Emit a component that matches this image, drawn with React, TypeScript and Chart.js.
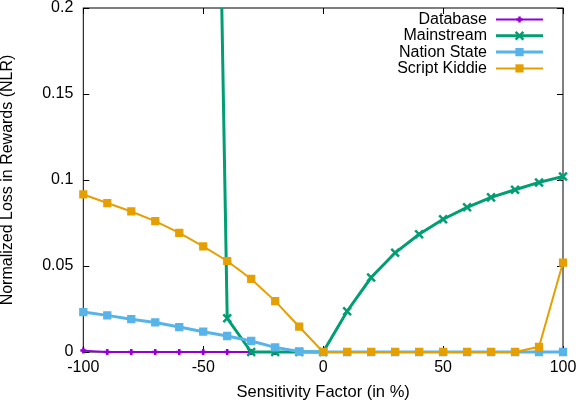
import { useEffect, useRef } from "react"
import { Chart, registerables } from "chart.js"
import { drawPoint } from "chart.js/helpers"

Chart.register(...registerables)

// sensitivity factor (in %)
const factors = [-100, -90, -80, -70, -60, -50, -40, -30, -20, -10, 0, 10, 20, 30, 40, 50, 60, 70, 80, 90, 100]

const database = [0.0008, 0, 0, 0, 0, 0, 0, 0, 0, 0, 0, 0, 0, 0, 0, 0, 0, 0, 0, 0, 0]
// first points run far above the 0.2 limit
const mainstream = [1.6, 1.45, 1.3, 1.15, 1.0, 0.82, 0.0196, 0, 0, 0, 0, 0.0237, 0.0433, 0.0577, 0.0684, 0.0772, 0.0841, 0.0899, 0.0943, 0.0986, 0.102]
const nationState = [0.0232, 0.0213, 0.0191, 0.0172, 0.0145, 0.0118, 0.0093, 0.0064, 0.0027, 0.0003, 0, 0, 0, 0, 0, 0, 0, 0, 0, 0, 0]
const scriptKiddie = [0.0916, 0.0866, 0.0817, 0.0761, 0.0692, 0.0614, 0.0529, 0.0425, 0.0296, 0.0147, 0, 0, 0, 0, 0, 0, 0, 0, 0, 0.003, 0.052]

const seriesNames = ["Database", "Mainstream", "Nation State", "Script Kiddie"]
const xTicks = [-100, -50, 0, 50, 100]
const yTicks = [0, 0.05, 0.1, 0.15, 0.2]

const FONT = "'Liberation Sans', Arial, sans-serif"

const toPoints = (ys: number[]) => factors.map((x, i) => ({ x, y: ys[i] }))

// gnuplot-like box with inward ticks, plus the legend in the top right corner
const framePlugin = {
  id: "frame",
  beforeDatasetsDraw(chart: any) {
    const { ctx, chartArea } = chart
    const { left, right, top, bottom } = chartArea
    const xs = chart.scales.x
    const ys = chart.scales.y
    ctx.save()
    ctx.strokeStyle = "#000"
    ctx.lineWidth = 1
    ctx.strokeRect(left, top, right - left, bottom - top)
    ctx.beginPath()
    xTicks.forEach((v) => {
      const px = Math.round(xs.getPixelForValue(v)) + 0.5
      ctx.moveTo(px, bottom)
      ctx.lineTo(px, bottom - 6)
      ctx.moveTo(px, top)
      ctx.lineTo(px, top + 6)
    })
    yTicks.forEach((v) => {
      const py = Math.round(ys.getPixelForValue(v)) + 0.5
      ctx.moveTo(left, py)
      ctx.lineTo(left + 6, py)
      ctx.moveTo(right, py)
      ctx.lineTo(right - 6, py)
    })
    ctx.stroke()
    ctx.restore()
  },
  afterDatasetsDraw(chart: any) {
    const { ctx } = chart
    ctx.save()
    ctx.font = `16px ${FONT}`
    ctx.textAlign = "right"
    ctx.textBaseline = "middle"
    chart.data.datasets.forEach((ds: any, i: number) => {
      const y = 19.5 + i * 16.3
      ctx.fillStyle = "#000"
      ctx.fillText(ds.label, 487, y)
      ctx.strokeStyle = ds.borderColor
      ctx.lineWidth = ds.borderWidth
      ctx.beginPath()
      ctx.moveTo(496, y)
      ctx.lineTo(543, y)
      ctx.stroke()
      ctx.fillStyle = ds.pointBackgroundColor
      ctx.strokeStyle = ds.pointBorderColor
      ctx.lineWidth = ds.pointBorderWidth
      drawPoint(ctx, { pointStyle: ds.pointStyle, radius: ds.pointRadius, rotation: 0, borderWidth: ds.pointBorderWidth } as any, 519.5, y)
    })
    ctx.restore()
  },
}

export default function App() {
  const chartRef = useRef<HTMLCanvasElement>(null)
  const chartInstance = useRef<Chart | null>(null)

  useEffect(() => {
    if (!chartRef.current) return
    if (chartInstance.current) chartInstance.current.destroy()

    const clip = { left: 10, right: 10, top: 0, bottom: 10 }

    chartInstance.current = new Chart(chartRef.current, {
      type: "line",
      data: {
        datasets: [
          {
            label: seriesNames[0],
            data: toPoints(database),
            borderColor: "#9400d3",
            borderWidth: 2,
            pointStyle: "cross",
            pointRadius: 3,
            pointBorderWidth: 2.5,
            pointBackgroundColor: "#9400d3",
            pointBorderColor: "#9400d3",
            order: 4,
            clip,
          },
          {
            label: seriesNames[1],
            data: toPoints(mainstream),
            borderColor: "#009e73",
            borderWidth: 3,
            pointStyle: "crossRot",
            pointRadius: 5.5,
            pointBorderWidth: 2.5,
            pointBackgroundColor: "#009e73",
            pointBorderColor: "#009e73",
            order: 3,
            clip,
          },
          {
            label: seriesNames[2],
            data: toPoints(nationState),
            borderColor: "#56b4e9",
            borderWidth: 3,
            pointStyle: "rect",
            pointRadius: 4.8,
            pointBorderWidth: 1.5,
            pointBackgroundColor: "#56b4e9",
            pointBorderColor: "#56b4e9",
            order: 2,
            clip,
          },
          {
            label: seriesNames[3],
            data: toPoints(scriptKiddie),
            borderColor: "#e69f00",
            borderWidth: 2,
            pointStyle: "rect",
            pointRadius: 5.8,
            pointBorderWidth: 0,
            pointBackgroundColor: "#e69f00",
            pointBorderColor: "#e69f00",
            order: 1,
            clip,
          },
        ] as any,
      },
      options: {
        animation: false,
        responsive: true,
        maintainAspectRatio: false,
        layout: { padding: { left: 0, top: 5, right: 13, bottom: 0 } },
        plugins: {
          legend: { display: false },
          tooltip: { enabled: false },
        },
        scales: {
          x: {
            type: "linear",
            min: -100,
            max: 100,
            afterFit: (scale: any) => {
              scale.height = 52
              scale.paddingLeft = 0
              scale.paddingRight = 0
            },
            afterBuildTicks: (scale: any) => {
              scale.ticks = xTicks.map((v) => ({ value: v }))
            },
            grid: { display: false, drawTicks: false },
            border: { display: false },
            ticks: {
              padding: 6,
              color: "#000",
              maxRotation: 0,
              font: { family: FONT, size: 16, lineHeight: 1.2 },
              callback: (v: any) => String(v),
            },
            title: {
              display: true,
              text: "Sensitivity Factor (in %)",
              color: "#000",
              font: { family: FONT, size: 16.5, lineHeight: 1 },
              padding: { top: 0, bottom: 3 },
            },
          },
          y: {
            min: 0,
            max: 0.2,
            afterFit: (scale: any) => {
              scale.width = 83.3
              scale.paddingTop = 0
              scale.paddingBottom = 0
            },
            afterBuildTicks: (scale: any) => {
              scale.ticks = yTicks.map((v) => ({ value: v }))
            },
            grid: { display: false, drawTicks: false },
            border: { display: false },
            ticks: {
              padding: 10,
              color: "#000",
              font: { family: FONT, size: 16, lineHeight: 1.2 },
              callback: (v: any) => String(parseFloat(Number(v).toFixed(2))),
            },
            title: {
              display: true,
              text: "Normalized Loss in Rewards (NLR)",
              color: "#000",
              font: { family: FONT, size: 16, lineHeight: 1 },
              padding: { top: 0, bottom: 0 },
            },
          },
        },
      },
      plugins: [framePlugin],
    })

    return () => {
      if (chartInstance.current) {
        chartInstance.current.destroy()
        chartInstance.current = null
      }
    }
  }, [])

  return (
    <div style={{ position: "absolute", left: 0, top: 0, width: 576, height: 404, background: "#fff" }}>
      <canvas ref={chartRef} />
    </div>
  )
}
